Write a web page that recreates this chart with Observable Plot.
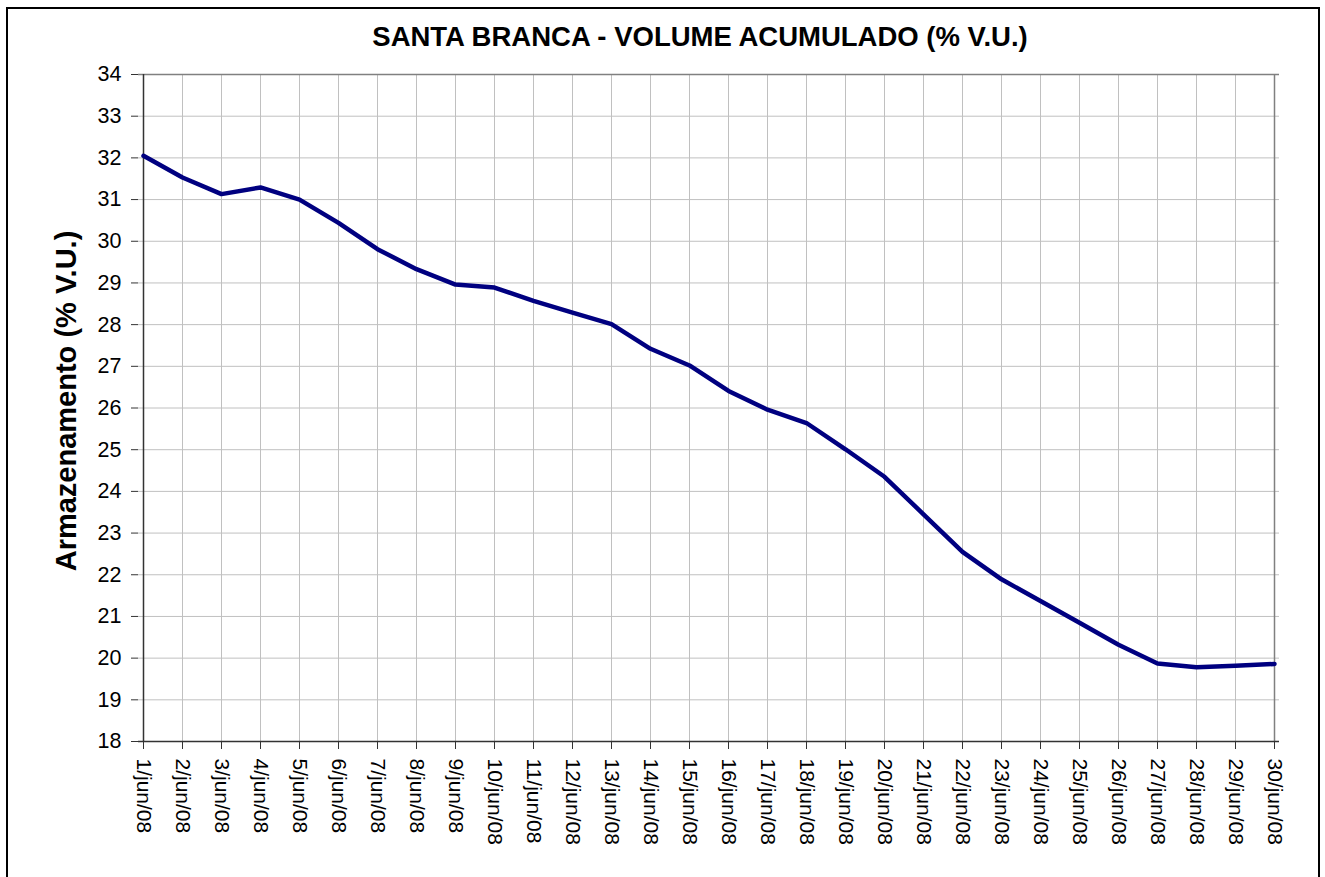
<!DOCTYPE html>
<html>
<head>
<meta charset="utf-8">
<script src="https://cdn.jsdelivr.net/npm/d3@7"></script>
<script src="https://cdn.jsdelivr.net/npm/@observablehq/plot@0.6"></script>
<style>
  html, body { margin: 0; padding: 0; background: #fff; overflow: hidden; }
  #wrap { position: relative; width: 1325px; height: 877px; }
  #border { position: absolute; left: 6px; top: 7px; width: 1310px; height: 900px; border: 2px solid #000; pointer-events: none; }
  svg { font-family: "Liberation Sans", Arial, sans-serif; }
</style>
</head>
<body>
<div id="wrap"><div id="border"></div></div>
<script>
const title = "SANTA BRANCA - VOLUME ACUMULADO (% V.U.)";
const yLabel = "Armazenamento (% V.U.)";
const days = ["1/jun/08","2/jun/08","3/jun/08","4/jun/08","5/jun/08","6/jun/08","7/jun/08","8/jun/08","9/jun/08","10/jun/08",
  "11/jun/08","12/jun/08","13/jun/08","14/jun/08","15/jun/08","16/jun/08","17/jun/08","18/jun/08","19/jun/08","20/jun/08",
  "21/jun/08","22/jun/08","23/jun/08","24/jun/08","25/jun/08","26/jun/08","27/jun/08","28/jun/08","29/jun/08","30/jun/08"];
const volume = [32.05, 31.53, 31.13, 31.29, 31.00, 30.44, 29.81, 29.33, 28.96, 28.89,
  28.57, 28.29, 28.01, 27.42, 27.02, 26.41, 25.96, 25.64, 25.01, 24.35,
  23.45, 22.55, 21.89, 21.37, 20.85, 20.32, 19.87, 19.78, 19.82, 19.86];
const yTicks = d3.range(18, 35, 1);

const data = days.map((d, i) => ({day: d, v: volume[i]}));

const chart = Plot.plot({
  width: 1325,
  height: 877,
  marginTop: 74,
  marginLeft: 138,
  marginRight: 46,
  marginBottom: 136,
  style: {fontFamily: "'Liberation Sans', Arial, sans-serif", background: "transparent", overflow: "visible"},
  x: {type: "point", domain: days, padding: 0},
  y: {domain: [18, 34]},
  marks: [
    Plot.ruleX(days, {x: d => d, stroke: "#c0c0c0", strokeWidth: 1, strokeOpacity: 1}),
    Plot.ruleY(yTicks, {y: d => d, stroke: "#c0c0c0", strokeWidth: 1, strokeOpacity: 1}),
    Plot.ruleY([34], {stroke: "#808080", strokeWidth: 1.5}),
    Plot.ruleX([days[days.length - 1]], {stroke: "#808080", strokeWidth: 1.5}),
    Plot.ruleX([days[0]], {stroke: "#333", strokeWidth: 1.5}),
    Plot.ruleY([18], {stroke: "#333", strokeWidth: 1.5}),
    Plot.axisY({ticks: yTicks, tickSize: 7, tickPadding: 10, fontSize: 21.5, label: null, stroke: "#333"}),
    Plot.axisX({tickRotate: 90, tickSize: 8, tickPadding: 9, fontSize: 21, label: null, stroke: "#333"}),
    Plot.line(data, {x: "day", y: "v", stroke: "#000080", strokeWidth: 4.5, strokeLinejoin: "miter"}),
    Plot.text([title], {frameAnchor: "top", dy: -48, dx: -9, text: d => d, fontSize: 27.5, fontWeight: "bold", fill: "#000"}),
    Plot.text([yLabel], {frameAnchor: "left", textAnchor: "middle", dx: -72, dy: -7, rotate: -90, text: d => d, fontSize: 29, fontWeight: "bold", fill: "#000"})
  ]
});
chart.style.position = "absolute";
chart.style.left = "0px";
chart.style.top = "0px";
document.getElementById("wrap").appendChild(chart);
</script>
</body>
</html>
